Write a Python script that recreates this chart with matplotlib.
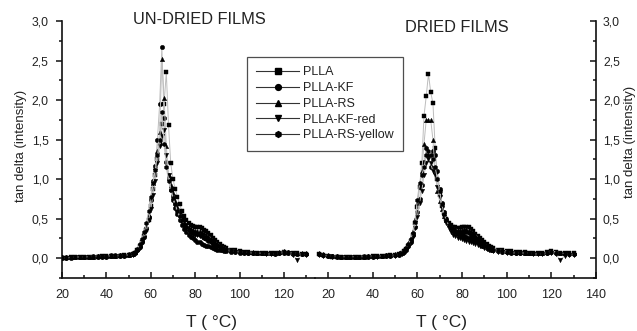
import matplotlib
matplotlib.use("Agg")
import matplotlib.pyplot as plt
from matplotlib.lines import Line2D
from matplotlib.ticker import MultipleLocator

plt.rcParams['font.family'] = ['Liberation Sans', 'DejaVu Sans']

# ---- data ----
series_names = ["PLLA", "PLLA-KF", "PLLA-RS", "PLLA-KF-red", "PLLA-RS-yellow"]
series_markers = ["s", "o", "^", "v", "h"]

# temperature grids (°C)
T_undried = ([20, 22, 24, 26, 28, 30, 32, 34, 36, 38, 40, 42, 44, 46, 48, 50]
             + list(range(52, 95))
             + [96, 98, 100, 102, 104, 106, 108, 110, 112, 114, 116, 118, 120, 122, 124, 126, 128, 130])
T_dried = ([16, 18, 20, 22, 24, 26, 28, 30, 32, 34, 36, 38, 40, 42, 44, 46, 48, 50]
           + list(range(52, 95))
           + [96, 98, 100, 102, 104, 106, 108, 110, 112, 114, 116, 118, 120, 122, 124, 126, 128, 130])

# UN-DRIED FILMS, tan delta
undried_plla = [0.00, 0.00, 0.01, 0.01, 0.01, 0.02, 0.02, 0.02, 0.02, 0.03, 0.03, 0.03, 0.03, 0.03, 0.04, 0.04,
                0.05, 0.07, 0.11, 0.15, 0.21, 0.28, 0.36, 0.48, 0.66, 0.88, 1.05, 1.25, 1.45, 1.70, 1.95, 2.35,
                1.68, 1.20, 1.00, 0.88, 0.78, 0.68, 0.60, 0.53, 0.48, 0.44, 0.42, 0.41, 0.40, 0.40, 0.39, 0.38,
                0.36, 0.34, 0.32, 0.29, 0.26, 0.23, 0.20, 0.18, 0.16, 0.14, 0.13,
                0.11, 0.10, 0.09, 0.08, 0.08, 0.07, 0.07, 0.07, 0.06, 0.06, 0.06, 0.07, 0.08, 0.07, 0.06, 0.06, 0.05, 0.05]
undried_kf = [0.00, 0.00, 0.00, 0.01, 0.01, 0.01, 0.01, 0.02, 0.02, 0.02, 0.02, 0.03, 0.03, 0.03, 0.03, 0.04,
              0.05, 0.07, 0.10, 0.14, 0.20, 0.27, 0.38, 0.52, 0.74, 0.98, 1.17, 1.50, 1.95, 2.67, 1.77, 1.22,
              1.00, 0.86, 0.74, 0.64, 0.56, 0.48, 0.42, 0.37, 0.33, 0.30, 0.27, 0.25, 0.23, 0.21, 0.20, 0.18,
              0.17, 0.16, 0.15, 0.14, 0.13, 0.12, 0.11, 0.10, 0.10, 0.09, 0.09,
              0.08, 0.08, 0.07, 0.07, 0.07, 0.06, 0.06, 0.06, 0.06, 0.06, 0.05, 0.06, 0.07, 0.06, 0.05, 0.05, 0.05, 0.05]
undried_rs = [0.01, 0.01, 0.01, 0.01, 0.02, 0.02, 0.02, 0.02, 0.03, 0.03, 0.03, 0.03, 0.03, 0.04, 0.04, 0.04,
              0.05, 0.08, 0.12, 0.17, 0.23, 0.31, 0.40, 0.55, 0.76, 0.95, 1.15, 1.35, 1.60, 2.52, 2.03, 1.42,
              1.05, 0.92, 0.82, 0.73, 0.65, 0.58, 0.52, 0.46, 0.42, 0.39, 0.37, 0.36, 0.35, 0.35, 0.34, 0.33,
              0.32, 0.30, 0.28, 0.26, 0.24, 0.21, 0.19, 0.17, 0.15, 0.14, 0.12,
              0.11, 0.10, 0.09, 0.08, 0.08, 0.08, 0.07, 0.07, 0.07, 0.07, 0.07, 0.08, 0.09, 0.08, 0.07, 0.06, 0.06, 0.06]
undried_kf_red = [0.00, 0.00, 0.01, 0.01, 0.01, 0.01, 0.02, 0.02, 0.02, 0.02, 0.02, 0.03, 0.03, 0.03, 0.03, 0.04,
                  0.04, 0.06, 0.09, 0.13, 0.19, 0.26, 0.34, 0.48, 0.62, 0.80, 0.98, 1.20, 1.42, 1.55, 1.62, 1.30,
                  1.05, 0.88, 0.76, 0.66, 0.58, 0.51, 0.45, 0.40, 0.36, 0.33, 0.31, 0.30, 0.29, 0.29, 0.28, 0.27,
                  0.26, 0.25, 0.23, 0.21, 0.19, 0.17, 0.15, 0.14, 0.12, 0.11, 0.10,
                  0.09, 0.08, 0.08, 0.07, 0.07, 0.06, 0.06, 0.06, 0.05, 0.05, 0.05, 0.06, 0.07, 0.07, 0.04, -0.02, 0.05, 0.04]
undried_rs_yellow = [0.01, 0.01, 0.01, 0.02, 0.02, 0.02, 0.02, 0.03, 0.03, 0.03, 0.03, 0.04, 0.04, 0.04, 0.04, 0.05,
                     0.06, 0.08, 0.12, 0.18, 0.24, 0.33, 0.44, 0.60, 0.78, 0.95, 1.12, 1.30, 1.50, 1.85, 1.45, 1.15,
                     0.98, 0.86, 0.76, 0.68, 0.60, 0.54, 0.48, 0.43, 0.39, 0.36, 0.34, 0.33, 0.32, 0.31, 0.30, 0.28,
                     0.26, 0.24, 0.22, 0.20, 0.18, 0.16, 0.15, 0.13, 0.12, 0.11, 0.10,
                     0.09, 0.09, 0.08, 0.08, 0.07, 0.07, 0.07, 0.06, 0.06, 0.06, 0.06, 0.07, 0.08, 0.08, 0.06, 0.05, 0.05, 0.05]

# DRIED FILMS, tan delta
dried_plla = [0.05, 0.04, 0.03, 0.02, 0.02, 0.02, 0.02, 0.02, 0.02, 0.02, 0.02, 0.02, 0.03, 0.03, 0.03, 0.03, 0.04, 0.04,
              0.05, 0.07, 0.09, 0.12, 0.16, 0.22, 0.30, 0.44, 0.65, 0.90, 1.20, 1.80, 2.05, 2.33, 2.10, 1.96,
              1.40, 1.00, 0.80, 0.66, 0.57, 0.50, 0.45, 0.42, 0.40, 0.39, 0.38, 0.38, 0.39, 0.40, 0.40, 0.39,
              0.37, 0.34, 0.31, 0.28, 0.25, 0.23, 0.20, 0.18, 0.16, 0.14, 0.13,
              0.11, 0.10, 0.09, 0.09, 0.08, 0.08, 0.08, 0.07, 0.07, 0.07, 0.07, 0.08, 0.09, 0.08, 0.07, 0.07, 0.06, 0.06]
dried_kf = [0.05, 0.04, 0.03, 0.03, 0.02, 0.02, 0.02, 0.02, 0.02, 0.02, 0.02, 0.02, 0.02, 0.03, 0.03, 0.03, 0.03, 0.04,
            0.04, 0.06, 0.08, 0.11, 0.15, 0.21, 0.29, 0.40, 0.58, 0.75, 0.92, 1.22, 1.39, 1.30, 1.16, 1.35,
            1.30, 1.10, 0.88, 0.70, 0.58, 0.49, 0.42, 0.38, 0.35, 0.33, 0.31, 0.30, 0.29, 0.28, 0.27, 0.26,
            0.25, 0.24, 0.22, 0.20, 0.18, 0.16, 0.15, 0.13, 0.12, 0.11, 0.10,
            0.09, 0.08, 0.08, 0.07, 0.07, 0.06, 0.06, 0.06, 0.06, 0.06, 0.06, 0.07, 0.08, 0.07, 0.06, 0.05, 0.05, 0.05]
dried_rs = [0.06, 0.05, 0.04, 0.03, 0.03, 0.02, 0.02, 0.02, 0.02, 0.02, 0.02, 0.03, 0.03, 0.03, 0.03, 0.04, 0.04, 0.05,
            0.06, 0.08, 0.11, 0.14, 0.19, 0.26, 0.35, 0.50, 0.70, 0.90, 1.10, 1.45, 1.75, 1.75, 1.75, 1.50,
            1.10, 0.85, 0.72, 0.62, 0.54, 0.48, 0.44, 0.41, 0.39, 0.37, 0.36, 0.36, 0.36, 0.37, 0.37, 0.36,
            0.35, 0.33, 0.30, 0.27, 0.24, 0.21, 0.19, 0.17, 0.15, 0.13, 0.12,
            0.11, 0.10, 0.09, 0.08, 0.08, 0.08, 0.07, 0.07, 0.07, 0.07, 0.07, 0.08, 0.09, 0.08, 0.07, 0.06, 0.06, 0.06]
dried_kf_red = [0.04, 0.03, 0.03, 0.02, 0.02, 0.02, 0.02, 0.02, 0.02, 0.02, 0.02, 0.02, 0.02, 0.02, 0.03, 0.03, 0.03, 0.03,
                0.04, 0.05, 0.07, 0.10, 0.14, 0.19, 0.27, 0.38, 0.52, 0.70, 0.85, 1.05, 1.20, 1.25, 1.20, 1.10,
                1.05, 0.90, 0.78, 0.64, 0.52, 0.44, 0.38, 0.33, 0.30, 0.28, 0.26, 0.25, 0.24, 0.23, 0.22, 0.21,
                0.20, 0.19, 0.18, 0.17, 0.16, 0.15, 0.13, 0.12, 0.11, 0.10, 0.09,
                0.08, 0.08, 0.07, 0.07, 0.06, 0.06, 0.06, 0.06, 0.05, 0.05, 0.05, 0.06, 0.07, 0.05, -0.02, 0.03, 0.04, 0.04]
dried_rs_yellow = [0.05, 0.04, 0.03, 0.03, 0.03, 0.02, 0.02, 0.02, 0.02, 0.02, 0.03, 0.03, 0.03, 0.03, 0.03, 0.04, 0.04, 0.04,
                   0.05, 0.07, 0.10, 0.13, 0.18, 0.24, 0.32, 0.46, 0.74, 0.95, 1.05, 1.15, 1.30, 1.35, 1.30, 1.25,
                   1.15, 1.00, 0.85, 0.68, 0.56, 0.48, 0.42, 0.38, 0.36, 0.34, 0.33, 0.32, 0.32, 0.33, 0.33, 0.32,
                   0.30, 0.28, 0.26, 0.24, 0.22, 0.20, 0.18, 0.16, 0.14, 0.12, 0.11,
                   0.10, 0.09, 0.08, 0.08, 0.07, 0.07, 0.07, 0.07, 0.06, 0.06, 0.06, 0.07, 0.08, 0.07, 0.06, 0.06, 0.05, 0.05]

undried = [undried_plla, undried_kf, undried_rs, undried_kf_red, undried_rs_yellow]
dried = [dried_plla, dried_kf, dried_rs, dried_kf_red, dried_rs_yellow]

y_ticks = [0.0, 0.5, 1.0, 1.5, 2.0, 2.5, 3.0]
y_ticklabels = ["0,0", "0,5", "1,0", "1,5", "2,0", "2,5", "3,0"]
x_ticks_left = [20, 40, 60, 80, 100, 120]
x_ticks_right = [20, 40, 60, 80, 100, 120, 140]

# ---- figure ----
txt = "#222222"
fig = plt.figure(figsize=(6.37, 3.31), dpi=100)
W, H = 637, 331
ax1 = fig.add_axes([62 / W, 1 - 278 / H, (315 - 62) / W, (278 - 21) / H])
ax2 = fig.add_axes([315 / W, 1 - 278 / H, (596 - 315) / W, (278 - 21) / H])

for ax, T, data in [(ax1, T_undried, undried), (ax2, T_dried, dried)]:
    for vals, m in zip(data, series_markers):
        ax.plot(T, vals, color="#bdbdbd", lw=0.7, marker=m, ms=3.2,
                mfc="black", mec="black", mew=0.3, zorder=3)
    ax.set_ylim(-0.25, 3.0)
    ax.set_yticks(y_ticks)
    ax.set_yticklabels(y_ticklabels)
    ax.yaxis.set_minor_locator(MultipleLocator(0.25))
    ax.xaxis.set_minor_locator(MultipleLocator(10))
    ax.spines['top'].set_visible(False)
    for s in ax.spines.values():
        s.set_linewidth(1.2)
        s.set_color("#111111")
    ax.tick_params(axis='x', which='both', direction='in', colors="#111111",
                   labelcolor=txt, labelsize=9, width=1.1)
    ax.tick_params(axis='x', which='major', length=4.5, pad=8)
    ax.tick_params(axis='x', which='minor', length=2.5)
    ax.tick_params(axis='y', which='both', colors="#111111", labelcolor=txt,
                   labelsize=8.8, width=1.1, pad=5)
    ax.tick_params(axis='y', which='major', length=4.5)
    ax.tick_params(axis='y', which='minor', length=2.5)
    ax.set_xlabel("T ( °C)", fontsize=12.5, color=txt)
    ax.patch.set_alpha(0)

# left panel
ax1.set_xlim(20, 134)
ax1.set_xticks(x_ticks_left)
ax1.spines['right'].set_visible(False)
ax1.tick_params(axis='y', which='both', direction='out')
ax1.set_ylabel("tan delta (intensity)", fontsize=9.5, color=txt)
ax1.yaxis.set_label_coords(-0.138, 0.515)
ax1.xaxis.set_label_coords(0.59, -0.145)

# right panel
ax2.set_xlim(14.2, 140)
ax2.set_xticks(x_ticks_right)
ax2.spines['left'].set_visible(False)
ax2.yaxis.tick_right()
ax2.yaxis.set_label_position("right")
ax2.tick_params(axis='y', which='both', direction='in', left=False, right=True)
ax2.set_ylabel("tan delta (intensity)", fontsize=9.5, color=txt)
ax2.yaxis.set_label_coords(1.1, 0.53)
ax2.xaxis.set_label_coords(0.45, -0.145)

# panel titles
fig.text(199 / W, 1 - 20 / H, "UN-DRIED FILMS", ha="center", va="center",
         fontsize=11.8, color=txt)
fig.text(457 / W, 1 - 27 / H, "DRIED FILMS", ha="center", va="center",
         fontsize=11.8, color=txt)

# legend
handles = [Line2D([], [], color="#333333", lw=0.8, marker=m, ms=4.2,
                  mfc="black", mec="black") for m in series_markers]
leg = fig.legend(handles, series_names, loc="upper left",
                 bbox_to_anchor=(247 / W, 1 - 57 / H), borderaxespad=0,
                 fontsize=9, frameon=True, fancybox=False, handlelength=3.4,
                 handletextpad=0.35, labelspacing=0.3, borderpad=0.75)
leg.get_frame().set_edgecolor("#222222")
leg.get_frame().set_linewidth(0.9)
for t in leg.get_texts():
    t.set_color(txt)

fig.savefig("out.png", dpi=100)
